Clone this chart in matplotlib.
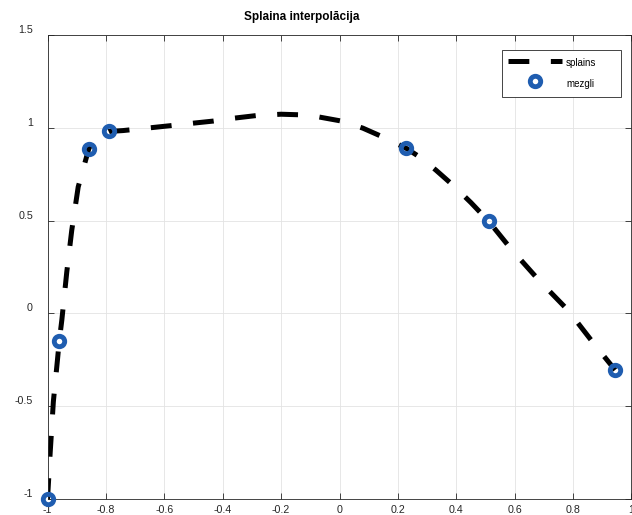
import matplotlib
matplotlib.use("Agg")
import matplotlib.pyplot as plt

plt.rcParams['font.family'] = ['Liberation Sans', 'DejaVu Sans']
plt.rcParams['axes.unicode_minus'] = False
plt.rcParams['lines.scale_dashes'] = False

# Interpolation nodes
node_x = [-1.0, -0.960, -0.859, -0.790, 0.229, 0.511, 0.944]
node_y = [-1.0, -0.151, 0.885, 0.980, 0.889, 0.496, -0.305]

# Spline curve
curve_x = [-1.0, -0.991, -0.980, -0.966, -0.960, -0.951, -0.934, -0.917, -0.895,
           -0.859, -0.843, -0.790, -0.741, -0.660, -0.581, -0.500, -0.433, -0.360,
           -0.284, -0.200, -0.138, -0.070, 0.007, 0.080, 0.149, 0.229, 0.275,
           0.330, 0.389, 0.450, 0.511, 0.588, 0.685, 0.782, 0.879, 0.944]
curve_y = [-1.0, -0.753, -0.475, -0.251, -0.151, -0.036, 0.224, 0.448, 0.681,
           0.885, 0.941, 0.980, 0.985, 0.998, 1.011, 1.025, 1.036, 1.052,
           1.066, 1.073, 1.070, 1.058, 1.036, 0.998, 0.950, 0.889, 0.842,
           0.772, 0.690, 0.597, 0.496, 0.346, 0.175, 0.018, -0.179, -0.305]

x_ticks = [-1, -0.8, -0.6, -0.4, -0.2, 0, 0.2, 0.4, 0.6, 0.8, 1]
x_labels = ['-1', '-0.8', '-0.6', '-0.4', '-0.2', '0', '0.2', '0.4', '0.6', '0.8', '1']
y_ticks = [-1, -0.5, 0, 0.5, 1, 1.5]
y_labels = ['-1', '-0.5', '0', '0.5', '1', '1.5']

title = 'Splaina interpolācija'
labels = ['splains', 'mezgli']

fig = plt.figure(figsize=(6.32, 5.15), dpi=100)
ax = fig.add_axes([0.0752, 0.0311, 0.924, 0.901])

ax.plot(curve_x, curve_y, color='black', linewidth=3.6, dashes=(15, 15.5),
        dash_capstyle='butt', label=labels[0], zorder=2)
ax.plot(node_x, node_y, linestyle='none', marker='o', markersize=7.5,
        markeredgewidth=3.5, markerfacecolor='none', markeredgecolor='#1f5db0',
        label=labels[1], zorder=3, clip_on=False)

ax.set_xlim(-1, 1)
ax.set_ylim(-1, 1.5)
ax.set_xticks(x_ticks)
ax.set_xticklabels(x_labels)
ax.set_yticks(y_ticks)
ax.set_yticklabels(y_labels, va='bottom')

ax.grid(True, color='#e3e3e3', linewidth=0.6)
ax.set_axisbelow(True)
ax.tick_params(direction='in', length=4, width=0.6, colors='#262626',
               labelsize=7.7, top=True, right=True)
ax.tick_params(axis='x', pad=4.5)
ax.tick_params(axis='y', pad=10.5)
for s in ax.spines.values():
    s.set_color('#262626')
    s.set_linewidth(0.6)

fig.text(302 / 632, 1 - 17 / 515, title, ha='center', va='center',
         fontsize=8.5, fontweight='bold', color='black')

leg = ax.legend(loc='upper left',
                bbox_to_anchor=(501.7 / 632, 1 - 49.7 / 515, 119 / 632, 0),
                bbox_transform=fig.transFigure, borderaxespad=0, mode='expand',
                fontsize=7, fancybox=False, framealpha=1, edgecolor='#262626',
                handlelength=5.6, handleheight=2.1, handletextpad=0.41,
                borderpad=0.6, labelspacing=0.47)
leg.get_frame().set_linewidth(0.6)

fig.savefig('out.png', dpi=100)
